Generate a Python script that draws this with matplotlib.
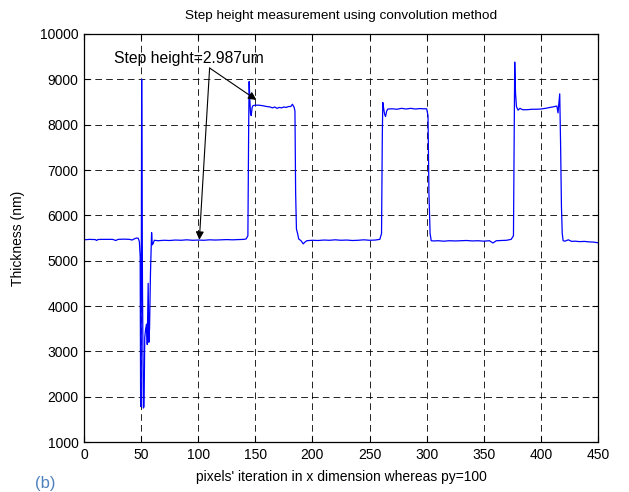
import numpy as np
import matplotlib
matplotlib.use("Agg")
import matplotlib.pyplot as plt

plt.rcParams["font.family"] = ["Liberation Sans", "DejaVu Sans"]

# pixel iteration (x) and thickness (nm), region by region
base0_x = [0, 5, 10, 11, 12, 15, 20, 25, 28, 29, 30, 35, 40, 42, 44, 46, 47.5, 48.5]
base0_y = [5460, 5470, 5465, 5445, 5465, 5470, 5470, 5470, 5445, 5460, 5470, 5475, 5470, 5455, 5480, 5500, 5495, 5420]

dip_x = [49.2, 49.6, 50.0, 50.5, 51.2, 52.0, 52.6, 53.2, 54.0, 54.8, 55.4, 56.2, 56.8, 57.4, 58.2, 59.2, 59.8, 60.6, 61.6]
dip_y = [5100, 1800, 1780, 9000, 4500, 1750, 1780, 3300, 3500, 3600, 3150, 4500, 3200, 3500, 4700, 5620, 5350, 5380, 5450]

base1_x = [65, 70, 75, 80, 85, 90, 95, 100, 105, 110, 115, 120, 125, 130, 135, 140, 142, 143.5]
base1_y = [5440, 5450, 5445, 5455, 5450, 5460, 5450, 5455, 5450, 5460, 5455, 5460, 5465, 5460, 5465, 5470, 5480, 5550]

step1_x = [144.2, 144.6, 145.2, 145.8, 146.4, 147.2, 148, 150, 153, 156, 160, 163, 165, 167, 169, 171, 173, 175, 177, 179, 181, 182.5, 184, 184.7, 185.3, 186, 187, 188, 190, 192, 193, 195]
step1_y = [8000, 8950, 8550, 8250, 8200, 8380, 8420, 8430, 8430, 8420, 8400, 8390, 8370, 8390, 8360, 8380, 8370, 8390, 8380, 8400, 8400, 8450, 8380, 8300, 6500, 5700, 5600, 5480, 5440, 5370, 5400, 5440]

base2_x = [200, 205, 210, 215, 220, 225, 230, 235, 240, 245, 250, 255, 259, 260.5]
base2_y = [5450, 5445, 5455, 5450, 5460, 5450, 5455, 5445, 5450, 5460, 5450, 5455, 5470, 5600]

step2_x = [261.2, 261.6, 262.4, 263.2, 264, 265, 266, 270, 274, 278, 282, 286, 290, 294, 297, 300, 301.2, 302, 303, 304]
step2_y = [7800, 8490, 8350, 8230, 8180, 8300, 8345, 8350, 8340, 8360, 8345, 8360, 8345, 8355, 8350, 8350, 8200, 6500, 5600, 5440]

base3_x = [306, 310, 315, 320, 325, 330, 335, 340, 345, 350, 355, 358, 361, 365, 370, 374, 376]
base3_y = [5435, 5440, 5430, 5440, 5435, 5440, 5445, 5435, 5440, 5430, 5440, 5390, 5440, 5445, 5450, 5470, 5550]

step3_x = [376.6, 377.1, 377.8, 378.6, 380, 381.7, 384, 388, 392, 396, 400, 404, 408, 412, 414, 415, 416.5, 417.3, 418, 418.7, 419.5]
step3_y = [7500, 9380, 8700, 8400, 8320, 8360, 8330, 8330, 8340, 8340, 8345, 8360, 8380, 8400, 8410, 8260, 8680, 7500, 6200, 5600, 5440]

base4_x = [421, 424, 427, 430, 434, 438, 442, 446, 450]
base4_y = [5430, 5460, 5425, 5430, 5420, 5425, 5415, 5410, 5395]

xs = np.concatenate([base0_x, dip_x, base1_x, step1_x, base2_x, step2_x, base3_x, step3_x, base4_x])
ys = np.concatenate([base0_y, dip_y, base1_y, step1_y, base2_y, step2_y, base3_y, step3_y, base4_y])

fig = plt.figure(figsize=(6.29, 4.92), dpi=100)
ax = fig.add_axes([0.1335, 0.1016, 0.8172, 0.8293])

ax.plot(xs, ys, color="#0000ff", lw=0.9)

ax.set_xlim(0, 450)
ax.set_ylim(1000, 10000)
ax.set_xticks(np.arange(0, 451, 50))
ax.set_yticks(np.arange(1000, 10001, 1000))
ax.grid(True, color="black", linestyle=(0, (8, 5)), linewidth=0.6)
ax.tick_params(direction="in", top=True, right=True, length=4, labelsize=10, pad=4)
for s in ax.spines.values():
    s.set_linewidth(0.9)

ax.set_title("Step height measurement using convolution method", fontsize=9.7, pad=11)
ax.set_xlabel("pixels' iteration in x dimension whereas py=100", fontsize=10, labelpad=6)
ax.set_ylabel("Thickness (nm)", fontsize=10, labelpad=11)

# annotation with two arrows from the text
ax.text(91.5, 9470, "Step height=2.987um", fontsize=11.3, ha="center", va="center")
arrow = dict(arrowstyle="-|>", color="black", lw=0.8, mutation_scale=12, shrinkA=0, shrinkB=0)
ax.annotate("", xy=(151, 8545), xytext=(110, 9250), arrowprops=arrow)
ax.annotate("", xy=(101, 5460), xytext=(110, 9250), arrowprops=arrow)

fig.text(0.0556, 0.002, "(b)", color="#4f81bd", fontsize=12, va="bottom", ha="left")

fig.savefig("out.png", dpi=100)
